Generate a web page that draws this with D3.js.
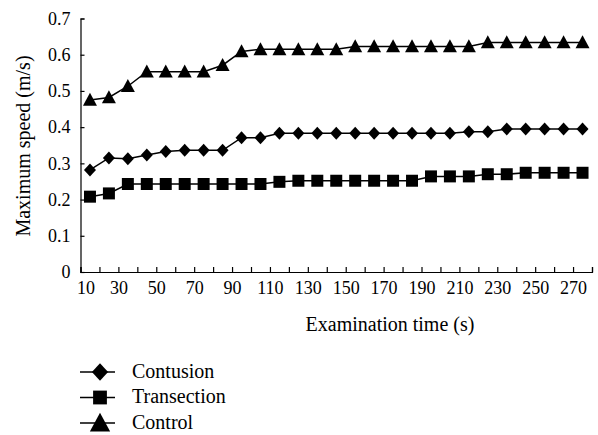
<!DOCTYPE html>
<html>
<head>
<meta charset="utf-8">
<script src="https://cdn.jsdelivr.net/npm/d3@7"></script>
<style>
  html, body { margin: 0; padding: 0; background: #fff; }
  svg { display: block; }
</style>
</head>
<body>
<svg id="chart" width="598" height="435"></svg>
<script>
const times = [10,20,30,40,50,60,70,80,90,100,110,120,130,140,150,160,170,180,190,200,210,220,230,240,250,260,270];
const contusion = [0.282,0.315,0.313,0.323,0.333,0.336,0.336,0.336,0.371,0.371,
  0.383,0.383,0.383,0.383,0.383,0.383,0.383,0.383,0.383,0.383,
  0.387,0.387,0.395,0.395,0.395,0.395,0.395];
const transection = [0.208,0.217,0.243,0.243,0.243,0.243,0.243,0.243,0.243,0.243,
  0.249,0.252,0.252,0.252,0.252,0.252,0.252,0.252,0.264,0.264,
  0.264,0.270,0.270,0.274,0.274,0.274,0.274];
const control = [0.475,0.482,0.513,0.553,0.553,0.553,0.553,0.571,0.609,0.615,
  0.615,0.615,0.615,0.615,0.623,0.623,0.623,0.623,0.623,0.623,
  0.623,0.634,0.634,0.634,0.634,0.634,0.634];
const yTicks = [0,0.1,0.2,0.3,0.4,0.5,0.6,0.7];
const seriesNames = ["Contusion","Transection","Control"];

(function () {
const FONT = "'Liberation Serif', 'Times New Roman', Times, serif";
const svg = d3.select("#chart");
const pLeft = 80.5, pRight = 592, pTop = 18.5, pBottom = 272;

const xs = d3.scaleLinear().domain([0, times.length]).range([pLeft, pRight]);
const y = d3.scaleLinear().domain([0, 0.7]).range([pBottom, pTop]);

// Y axis
const yAxis = d3.axisLeft(y).tickValues(yTicks).tickSize(-4).tickPadding(10)
  .tickFormat(d => d === 0 ? "0" : d3.format(".1f")(d));
const gy = svg.append("g").attr("transform", `translate(${pLeft},0)`).call(yAxis);
gy.attr("font-family", null);
gy.select(".domain").attr("stroke", "#000").attr("stroke-width", 1.2);
gy.selectAll(".tick line").attr("stroke", "#000").attr("stroke-width", 1.2);
gy.selectAll(".tick text").style("font-family", FONT).style("font-size", "18px").attr("fill", "#000");

// X axis
const idx = d3.range(times.length + 1);
const xAxis = d3.axisBottom(xs).tickValues(idx).tickSize(-5).tickPadding(9)
  .tickFormat(i => (i % 2 === 0 && i < times.length) ? times[i] : "");
const gx = svg.append("g").attr("transform", `translate(0,${pBottom})`).call(xAxis);
gx.attr("font-family", null);
gx.select(".domain").attr("stroke", "#000").attr("stroke-width", 1.2);
gx.selectAll(".tick line").attr("stroke", "#000").attr("stroke-width", 1.2);
gx.selectAll(".tick text").style("font-family", FONT).style("font-size", "18px").attr("fill", "#000")
  .attr("dx", i => i === 0 ? 5 : 0);

// Axis titles
svg.append("text").attr("x", 390).attr("y", 331).attr("text-anchor", "middle")
  .style("font-family", FONT).style("font-size", "20px").text("Examination time (s)");
svg.append("text").attr("transform", "translate(30,146) rotate(-90)").attr("text-anchor", "middle")
  .style("font-family", FONT).style("font-size", "20px").text("Maximum speed (m/s)");

// Marker shapes
function diamondPath(w, h) { return `M0,${-h/2}L${w/2},0L0,${h/2}L${-w/2},0Z`; }
function squarePath(w, h) { return `M${-w/2},${-h/2}H${w/2}V${h/2}H${-w/2}Z`; }
function trianglePath(w, h) { return `M0,${-h*0.55}L${w/2},${h*0.45}L${-w/2},${h*0.45}Z`; }
const shapes = [
  s => diamondPath(12*s, 13*s),
  s => squarePath(12*s, 12*s),
  s => trianglePath(14*s, 13*s)
];

const allSeries = [contusion, transection, control];
const line = d3.line().x((d, i) => xs(i + 0.5)).y(d => y(d));

allSeries.forEach((vals, k) => {
  const g = svg.append("g");
  g.append("path").datum(vals).attr("d", line)
    .attr("fill", "none").attr("stroke", "#000").attr("stroke-width", 1.5);
  g.selectAll("path.m").data(vals).join("path").attr("class", "m")
    .attr("transform", (d, i) => `translate(${xs(i + 0.5)},${y(d)})`)
    .attr("d", shapes[k](1)).attr("fill", "#000");
});

// Legend
const legendY = [372, 397.5, 423];
const lg = svg.append("g");
seriesNames.forEach((name, k) => {
  const yy = legendY[k];
  lg.append("line").attr("x1", 80).attr("x2", 115).attr("y1", yy).attr("y2", yy)
    .attr("stroke", "#000").attr("stroke-width", 1.5);
  const sc = [1.35, 1.15, 1.45][k];
  lg.append("path").attr("transform", `translate(100,${yy})`).attr("d", shapes[k](sc)).attr("fill", "#000");
  lg.append("text").attr("x", 132).attr("y", yy + 5.5)
    .style("font-family", FONT).style("font-size", "20px").text(name);
});
})();
</script>
</body>
</html>
